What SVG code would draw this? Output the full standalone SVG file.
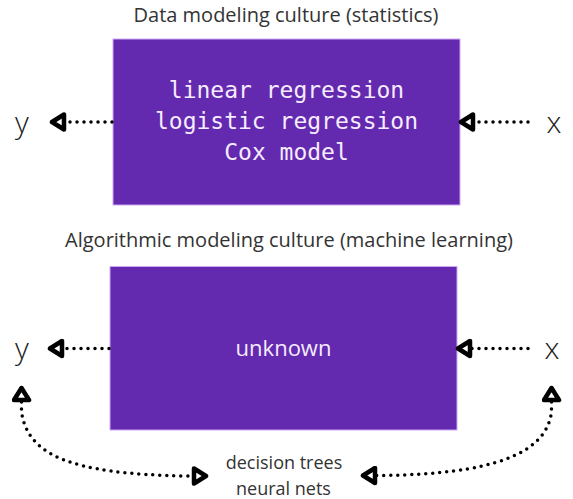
<svg xmlns="http://www.w3.org/2000/svg" width="573" height="499" viewBox="0 0 573 499">
  <style>
    .title { font-family: "Open Sans", "Liberation Sans", sans-serif; font-size: 20px; fill: #333333; text-anchor: middle; }
    .box { fill: #6329ae; stroke: #cfa9f5; stroke-width: 1; }
    .mono { font-family: "DejaVu Sans Mono", "Liberation Mono", monospace; font-size: 23px; fill: #f6ecff; text-anchor: middle; }
    .sans-in { font-family: "Open Sans", "Liberation Sans", sans-serif; font-size: 22px; fill: #f6ecff; text-anchor: middle; }
    .var { font-family: "Open Sans", "Liberation Sans", sans-serif; font-size: 30px; font-weight: 300; fill: #222222; text-anchor: middle; }
    .label { font-family: "Open Sans", "Liberation Sans", sans-serif; font-size: 18px; fill: #333333; text-anchor: middle; }
    .dot { fill: none; stroke: #000; stroke-width: 3.5; stroke-linecap: round; stroke-dasharray: 0 7; }
  </style>
  <defs>
    <marker id="tri" viewBox="0 0 20 20" markerWidth="20" markerHeight="20" markerUnits="userSpaceOnUse" refX="15" refY="10" orient="auto-start-reverse">
      <path d="M3,2.5 L15,10 L3,17.5 Z" fill="#fff" stroke="#000" stroke-width="4.5" stroke-linejoin="round"/>
    </marker>
  </defs>

  <text class="title" x="286" y="22">Data modeling culture (statistics)</text>
  <text class="title" x="289" y="247">Algorithmic modeling culture (machine learning)</text>

  <g id="box-statistics">
    <rect class="box" x="113" y="39" width="347" height="166"/>
    <text class="mono" x="286.5" y="98">linear regression</text>
    <text class="mono" x="286.5" y="129">logistic regression</text>
    <text class="mono" x="286.5" y="160">Cox model</text>
  </g>

  <g id="box-ml">
    <rect class="box" x="110" y="266.5" width="347" height="163.5"/>
    <text class="sans-in" x="283.5" y="356">unknown</text>
  </g>

  <g id="y-top"><text class="var" x="22" y="133">y</text></g>
  <g id="x-top"><text class="var" x="554" y="133">x</text></g>
  <g id="y-bottom"><text class="var" x="22" y="359">y</text></g>
  <g id="x-bottom"><text class="var" x="552" y="359">x</text></g>

  <g id="methods">
    <text class="label" x="284" y="469">decision trees</text>
    <text class="label" x="283.5" y="495">neural nets</text>
  </g>

  <g id="connectors">
    <path class="dot" d="M112,122 L52,122" marker-end="url(#tri)"/>
    <path class="dot" d="M528,122 L461,122" marker-end="url(#tri)"/>
    <path class="dot" d="M109,348.5 L50,348.5" marker-end="url(#tri)"/>
    <path class="dot" d="M528,348.5 L458,348.5" marker-end="url(#tri)"/>
    <path class="dot" d="M21.5,388 L21.5,412 C28,455 70,474 186,476 L206,476" marker-start="url(#tri)" marker-end="url(#tri)"/>
    <path class="dot" d="M551.5,388 L551.5,412 C546,455 490,474 383,475.5 L363,475.5" marker-start="url(#tri)" marker-end="url(#tri)"/>
  </g>
</svg>
